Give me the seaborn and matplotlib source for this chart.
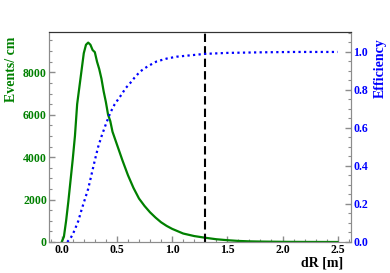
import numpy as np
import pandas as pd
import matplotlib
matplotlib.use('Agg')
import matplotlib.pyplot as plt
import seaborn as sns
from matplotlib.ticker import MultipleLocator

# dR distribution (events per cm)
dr = [0.00, 0.02, 0.04, 0.06, 0.08, 0.10, 0.12, 0.14, 0.16, 0.18, 0.20, 0.22,
      0.24, 0.26, 0.28, 0.30, 0.32, 0.34, 0.36, 0.38, 0.40, 0.42, 0.44, 0.46,
      0.48, 0.50, 0.55, 0.60, 0.65, 0.70, 0.75, 0.80, 0.85, 0.90, 0.95, 1.00,
      1.10, 1.20, 1.30, 1.40, 1.50, 1.60, 1.70, 1.80, 2.00, 2.20, 2.50]
events = [0, 250, 1000, 1900, 2900, 3900, 5000, 6500, 7300, 8100, 8900, 9300,
          9400, 9300, 9050, 8950, 8500, 8150, 7700, 7100, 6600, 6000, 5700, 5200,
          4900, 4600, 3850, 3150, 2550, 2050, 1700, 1400, 1150, 930, 760, 620,
          400, 280, 200, 130, 85, 50, 30, 20, 8, 3, 0]

# cumulative efficiency
dr_eff = [0.05, 0.08, 0.10, 0.12, 0.15, 0.18, 0.21, 0.24, 0.27, 0.30, 0.33,
          0.36, 0.40, 0.44, 0.48, 0.53, 0.58, 0.62, 0.66, 0.71, 0.78, 0.86,
          0.95, 1.04, 1.16, 1.30, 1.50, 1.80, 2.10, 2.50]
efficiency = [0.0, 0.02, 0.04, 0.067, 0.11, 0.17, 0.225, 0.28, 0.355, 0.43, 0.50,
              0.555, 0.62, 0.68, 0.725, 0.766, 0.81, 0.836, 0.865, 0.897, 0.925, 0.95,
              0.965, 0.975, 0.982, 0.99, 0.995, 0.998, 1.0, 1.0]

cut = 1.3

sns.set_style('ticks')
plt.rcParams['font.family'] = ['Liberation Serif', 'DejaVu Serif']
plt.rcParams['font.weight'] = 'bold'

GREEN = '#008000'
BLUE = '#0000ff'
GRAY = '#8c8c8c'

fig = plt.figure(figsize=(3.9, 2.73), dpi=100)
ax = fig.add_axes([49 / 390, 31 / 273, 302 / 390, 210 / 273])
ax2 = ax.twinx()

df = pd.DataFrame({'dr': dr, 'events': events})
de = pd.DataFrame({'dr': dr_eff, 'eff': efficiency})

sns.lineplot(data=df, x='dr', y='events', ax=ax, color=GREEN, linewidth=1.6,
             estimator=None, sort=False)
sns.lineplot(data=de, x='dr', y='eff', ax=ax2, color=BLUE, linewidth=1.6,
             linestyle=(0, (1, 1.5)), estimator=None, sort=False)
ax.axvline(cut, color='black', linewidth=1.5, linestyle=(0, (4, 2)))

ax.set_xlim(-0.115, 2.62)
ax.set_ylim(0, 9900)
ax2.set_ylim(0, 1.105)

ax.xaxis.set_major_locator(MultipleLocator(0.5))
ax.xaxis.set_minor_locator(MultipleLocator(0.1))
ax.yaxis.set_major_locator(MultipleLocator(2000))
ax.yaxis.set_minor_locator(MultipleLocator(500))
ax2.yaxis.set_major_locator(MultipleLocator(0.2))
ax2.yaxis.set_minor_locator(MultipleLocator(0.05))

ax.xaxis.set_major_formatter(plt.FuncFormatter(lambda v, p: f'{v:.1f}'))
ax.yaxis.set_major_formatter(plt.FuncFormatter(lambda v, p: f'{v:.0f}'))
ax2.yaxis.set_major_formatter(plt.FuncFormatter(lambda v, p: f'{v:.1f}'))

for a in (ax, ax2):
    a.tick_params(which='both', direction='in', color=GRAY, labelsize=8.5, pad=1.5)
    a.tick_params(which='major', length=4.5, width=1)
    a.tick_params(which='minor', length=2.5, width=0.8)
    for side in ('left', 'right', 'bottom'):
        a.spines[side].set_color(GRAY)
    a.spines['top'].set_color('#333333')
    a.set_xlabel('')
    a.set_ylabel('')

ax.tick_params(axis='y', labelcolor=GREEN)
ax.tick_params(axis='x', labelcolor='black', pad=1.5)
ax2.tick_params(axis='y', labelcolor=BLUE)
ax.tick_params(axis='y', which='both', right=False)
ax2.tick_params(axis='y', which='both', left=False)

fig.text(12 / 390, 1 - 37 / 273, 'Events/ cm', rotation=90, color=GREEN,
         fontsize=10, fontweight='bold', ha='center', va='top')
fig.text(380 / 390, 1 - 38 / 273, 'Efficiency', rotation=90, color=BLUE,
         fontsize=10, fontweight='bold', ha='center', va='top')
fig.text(343 / 390, 1 - 263 / 273, 'dR [m]', color='black',
         fontsize=10, fontweight='bold', ha='right', va='center')

fig.savefig('out.png', dpi=100)
